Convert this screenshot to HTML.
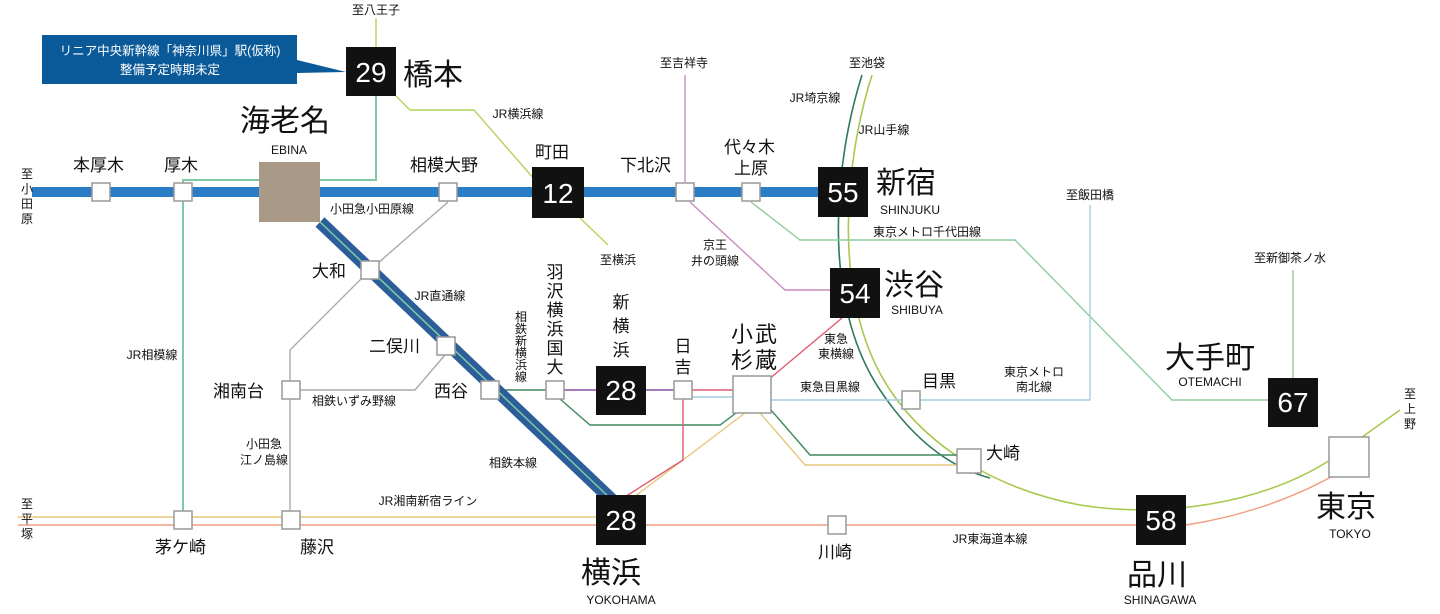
<!DOCTYPE html>
<html><head><meta charset="utf-8"><style>
html,body{margin:0;padding:0;background:#fff;}
svg{display:block;}
text{font-family:"Liberation Sans","Noto Sans CJK JP",sans-serif;fill:#111;}
.s text{font-size:12px;}
.m text{font-size:17px;}
.b text{font-size:30px;}
.e text{font-size:12px;}
.n text{font-size:28px;fill:#fff;}
.w text{fill:#fff;font-size:12.5px;}
</style></head><body>
<svg width="1440" height="614" viewBox="0 0 1440 614" xmlns="http://www.w3.org/2000/svg">
<g fill="none">
<path d="M862 75 C835 160 820 300 880 390 C920 450 960 470 990 478" stroke="#2e7a5a" stroke-width="1.6"/>
<path d="M872 75 C845 160 830 300 890 390 C930 450 1000 490 1080 505 C1160 518 1260 505 1330 460 L1400 410" stroke="#a8c84e" stroke-width="1.6"/>
<path d="M751 202 L800 240 L1015 240 L1172 400 L1268 400 M1293 378 L1293 270" stroke="#8fcc9e" stroke-width="1.4"/>
<path d="M685 75 L685 182 M690 202 L785 290 L830 290" stroke="#c88cc0" stroke-width="1.4"/>
<path d="M683 397 L733 397 M771 400 L1090 400 L1090 205" stroke="#a6cfe0" stroke-width="1.4"/>
<path d="M376 18 L376 47 M396 96 L410 110 L474 110 L535 180 M580 218 L608 245" stroke="#b4d35a" stroke-width="1.4"/>
<path d="M376 96 L376 180 L320 180 M259 180 L183 180 L183 520" stroke="#7fcaa5" stroke-width="2"/>
<path d="M448 202 L370 270 L290 350 L290 520 M445 355 L415 390 L300 390" stroke="#aaa" stroke-width="1.4"/>
<path d="M18 517 L600 517" stroke="#e7c67a" stroke-width="1.4"/>
<path d="M18 525 L1136 525 M1186 525 C1250 515 1300 495 1340 472" stroke="#ef9e80" stroke-width="1.4"/>
<path d="M745 413 L630 500 M760 413 L805 465 L957 465" stroke="#e7c67a" stroke-width="1.4"/>
<path d="M498 390 L546 390 M560 399 L590 425 L720 425 L740 410 M771 410 L810 455 L957 455" stroke="#3f8a5f" stroke-width="1.4"/>
<path d="M564 390 L674 390" stroke="#8a4fa0" stroke-width="1.6"/>
<path d="M692 390 L733 390 M768 380 L842 318 M683 399 L683 460 L620 500" stroke="#e05a6e" stroke-width="1.4"/>
<path d="M32 192 L820 192" stroke="#2a7cc4" stroke-width="10"/>
<path d="M320 222 L612 500" stroke="#2c5f9a" stroke-width="13"/>
<path d="M320 222 L612 500" stroke="#7fcaa5" stroke-width="1.5"/>
</g>
<g fill="#fff" stroke="#999" stroke-width="1.5">
<rect x="92" y="183" width="18" height="18"/>
<rect x="174" y="183" width="18" height="18"/>
<rect x="439" y="183" width="18" height="18"/>
<rect x="676" y="183" width="18" height="18"/>
<rect x="742" y="183" width="18" height="18"/>
<rect x="361" y="261" width="18" height="18"/>
<rect x="437" y="337" width="18" height="18"/>
<rect x="282" y="381" width="18" height="18"/>
<rect x="481" y="381" width="18" height="18"/>
<rect x="546" y="381" width="18" height="18"/>
<rect x="674" y="381" width="18" height="18"/>
<rect x="733" y="376" width="38" height="37"/>
<rect x="902" y="391" width="18" height="18"/>
<rect x="957" y="449" width="24" height="24"/>
<rect x="174" y="511" width="18" height="18"/>
<rect x="282" y="511" width="18" height="18"/>
<rect x="828" y="516" width="18" height="18"/>
<rect x="1329" y="437" width="40" height="40"/>
</g>
<rect x="259" y="162" width="61" height="60" fill="#a89a87"/>
<g fill="#111">
<rect x="346" y="47" width="50" height="49"/>
<rect x="532" y="167" width="52" height="51"/>
<rect x="818" y="167" width="50" height="50"/>
<rect x="830" y="268" width="50" height="50"/>
<rect x="596" y="366" width="50" height="49"/>
<rect x="596" y="495" width="50" height="50"/>
<rect x="1136" y="495" width="50" height="50"/>
<rect x="1268" y="378" width="50" height="49"/>
</g>
<g class="n" text-anchor="middle">
<text x="371" y="82">29</text>
<text x="558" y="203">12</text>
<text x="843" y="202">55</text>
<text x="855" y="303">54</text>
<text x="621" y="400">28</text>
<text x="621" y="530">28</text>
<text x="1161" y="530">58</text>
<text x="1293" y="412">67</text>
</g>
<path d="M42 35 L297 35 L297 60 L346 72 L297 73 L297 84 L42 84 Z" fill="#0a5a9a"/>
<g class="w" text-anchor="middle">
<text x="170" y="55">リニア中央新幹線「神奈川県」駅(仮称)</text>
<text x="170" y="74">整備予定時期未定</text>
</g>
<g class="b">
<text x="403" y="85">橋本</text>
<text x="240" y="131">海老名</text>
<text x="876" y="193">新宿</text>
<text x="884" y="295">渋谷</text>
<text x="1165" y="368">大手町</text>
<text x="1316" y="517">東京</text>
<text x="1127" y="585">品川</text>
<text x="581" y="583">横浜</text>
</g>
<g class="e" text-anchor="middle">
<text x="289" y="154">EBINA</text>
<text x="910" y="214">SHINJUKU</text>
<text x="917" y="314">SHIBUYA</text>
<text x="1210" y="386">OTEMACHI</text>
<text x="1350" y="538">TOKYO</text>
<text x="1160" y="604">SHINAGAWA</text>
<text x="621" y="604">YOKOHAMA</text>
</g>
<g class="m">
<text x="73" y="171">本厚木</text>
<text x="164" y="171">厚木</text>
<text x="410" y="171">相模大野</text>
<text x="535" y="158">町田</text>
<text x="620" y="171">下北沢</text>
<text x="724" y="153">代々木</text>
<text x="734" y="174">上原</text>
<text x="312" y="277">大和</text>
<text x="369" y="352">二俣川</text>
<text x="213" y="397">湘南台</text>
<text x="434" y="397">西谷</text>
<text x="922" y="387">目黒</text>
<text x="986" y="459">大崎</text>
<text x="155" y="553">茅ケ崎</text>
<text x="300" y="553">藤沢</text>
<text x="818" y="558">川崎</text>
</g>
<g class="m" text-anchor="middle">
<text x="555" y="278">羽</text><text x="555" y="297">沢</text><text x="555" y="316">横</text><text x="555" y="335">浜</text><text x="555" y="354">国</text><text x="555" y="373">大</text>
<text x="621" y="308">新</text><text x="621" y="332">横</text><text x="621" y="356">浜</text>
<text x="683" y="352">日</text><text x="683" y="373">吉</text>
</g>
<g class="b" text-anchor="middle" style="font-size:22px">
<text x="742" y="342" style="font-size:22px">小</text><text x="766" y="342" style="font-size:22px">武</text>
<text x="742" y="368" style="font-size:22px">杉</text><text x="766" y="368" style="font-size:22px">蔵</text>
</g>
<g class="s" text-anchor="middle">
<text x="27" y="178">至</text><text x="27" y="193">小</text><text x="27" y="208">田</text><text x="27" y="223">原</text>
<text x="27" y="508">至</text><text x="27" y="523">平</text><text x="27" y="538">塚</text>
<text x="1410" y="398">至</text><text x="1410" y="413">上</text><text x="1410" y="428">野</text>
<text x="521" y="321">相</text><text x="521" y="333">鉄</text><text x="521" y="345">新</text><text x="521" y="357">横</text><text x="521" y="369">浜</text><text x="521" y="381">線</text>
<text x="376" y="14">至八王子</text>
<text x="684" y="67">至吉祥寺</text>
<text x="867" y="67">至池袋</text>
<text x="1090" y="199">至飯田橋</text>
<text x="1290" y="262">至新御茶ノ水</text>
<text x="618" y="264">至横浜</text>
<text x="518" y="118">JR横浜線</text>
<text x="815" y="102">JR埼京線</text>
<text x="884" y="134">JR山手線</text>
<text x="372" y="213">小田急小田原線</text>
<text x="440" y="300">JR直通線</text>
<text x="354" y="405">相鉄いずみ野線</text>
<text x="513" y="467">相鉄本線</text>
<text x="152" y="359">JR相模線</text>
<text x="264" y="448">小田急</text>
<text x="264" y="464">江ノ島線</text>
<text x="715" y="249">京王</text>
<text x="715" y="265">井の頭線</text>
<text x="927" y="236">東京メトロ千代田線</text>
<text x="836" y="343">東急</text>
<text x="836" y="358">東横線</text>
<text x="830" y="391">東急目黒線</text>
<text x="1034" y="376">東京メトロ</text>
<text x="1034" y="391">南北線</text>
<text x="428" y="505">JR湘南新宿ライン</text>
<text x="990" y="543">JR東海道本線</text>
</g>
</svg>
</body></html>
